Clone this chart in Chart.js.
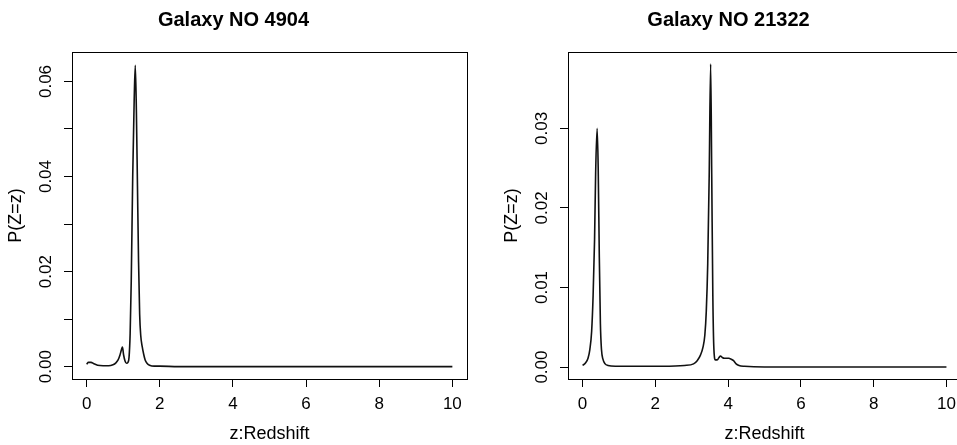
<!DOCTYPE html>
<html>
<head>
<meta charset="utf-8">
<script src="https://cdn.jsdelivr.net/npm/chart.js@4/dist/chart.umd.min.js"></script>
<style>
  body { margin: 0; background: #fff; overflow: hidden; width: 957px; height: 445px; position: relative; }
  canvas { position: absolute; top: 0; }
  #left { left: 0; }
  #right { left: 496px; }
</style>
</head>
<body>
<canvas id="left" width="540" height="445"></canvas>
<canvas id="right" width="538" height="445"></canvas>
<script>
// Galaxy NO 4904
const z4904 = [0, 0.05, 0.12, 0.2, 0.3, 0.45, 0.6, 0.72, 0.8, 0.86,
  0.91, 0.95, 0.98, 1.01, 1.05, 1.09, 1.13, 1.16, 1.19, 1.22,
  1.26, 1.30, 1.33, 1.36, 1.39, 1.42, 1.45, 1.48, 1.52, 1.56,
  1.60, 1.65, 1.72, 1.85, 2.0, 2.5, 3, 4, 5, 6,
  7, 8, 9, 10];
const p4904 = [0.0005, 0.0009, 0.0009, 0.0006, 0.0003, 0.0002, 0.0002, 0.0004, 0.0008, 0.0014,
  0.0024, 0.0035, 0.0041, 0.0025, 0.0012, 0.0007, 0.0009, 0.0020, 0.0070, 0.0180,
  0.0400, 0.0560, 0.0634, 0.0540, 0.0380, 0.0220, 0.0110, 0.0065, 0.0042, 0.0026,
  0.0014, 0.0007, 0.0003, 0.0001, 0.0001, 0, 0, 0, 0, 0,
  0, 0, 0, 0];

// Galaxy NO 21322
const z21322 = [0, 0.08, 0.15, 0.2, 0.25, 0.29, 0.33, 0.36, 0.40, 0.43,
  0.46, 0.49, 0.52, 0.56, 0.62, 0.7, 0.9, 1.5, 2.2, 2.8,
  3.05, 3.15, 3.24, 3.31, 3.36, 3.40, 3.44, 3.48, 3.52, 3.55,
  3.58, 3.61, 3.65, 3.7, 3.75, 3.79, 3.84, 3.9, 3.96, 4.02,
  4.08, 4.15, 4.22, 4.3, 4.45, 5, 6, 7, 8, 9,
  10];
const p21322 = [0.0002, 0.0005, 0.0011, 0.0022, 0.0045, 0.0090, 0.0160, 0.0245, 0.0300, 0.0250,
  0.0140, 0.0055, 0.0022, 0.0010, 0.0004, 0.0002, 0.0001, 0.0001, 0.0001, 0.0002,
  0.0004, 0.0008, 0.0015, 0.0025, 0.0040, 0.0070, 0.0130, 0.0240, 0.0381, 0.0240,
  0.0090, 0.0022, 0.0009, 0.0009, 0.0012, 0.0014, 0.0012, 0.0011, 0.0011, 0.0011,
  0.0010, 0.0008, 0.0004, 0.0002, 0.0001, 0, 0, 0, 0, 0,
  0];

const xTitle = "z:Redshift";
const yTitle = "P(Z=z)";

Chart.defaults.font.family = '"Liberation Sans", Arial, Helvetica, sans-serif';
Chart.defaults.color = "#000";

// R style box around the plot region
const boxPlugin = {
  id: "box",
  afterDraw(chart) {
    const a = chart.chartArea;
    const ctx = chart.ctx;
    ctx.save();
    ctx.strokeStyle = "#000";
    ctx.lineWidth = 1;
    ctx.strokeRect(Math.round(a.left) + 0.5, Math.round(a.top) + 0.5,
      Math.round(a.right - a.left), Math.round(a.bottom - a.top));
    ctx.restore();
  }
};

function makeChart(id, title, zs, ps, yMin, yMax, everyOther) {
  const points = zs.map((z, i) => ({ x: z, y: ps[i] }));
  return new Chart(document.getElementById(id), {
    type: "line",
    data: {
      datasets: [{
        data: points,
        borderColor: "#111",
        borderWidth: 1.6,
        pointRadius: 0,
        fill: false,
        cubicInterpolationMode: "monotone"
      }]
    },
    options: {
      responsive: false,
      animation: false,
      devicePixelRatio: 1,
      layout: { padding: { left: 0, right: 73, top: 0, bottom: 0 } },
      plugins: {
        legend: { display: false },
        tooltip: { enabled: false },
        title: {
          display: true,
          text: title,
          font: { size: 20, weight: "bold" },
          padding: { top: 8, bottom: 20 }
        }
      },
      scales: {
        x: {
          type: "linear",
          min: -0.4,
          max: 10.4,
          border: { display: false },
          grid: { drawOnChartArea: false, drawTicks: true, tickLength: 8, color: "#000" },
          ticks: { stepSize: 2, includeBounds: false, padding: 7, font: { size: 17 }, maxRotation: 0 },
          title: { display: true, text: xTitle, font: { size: 18 }, padding: { top: 0, bottom: 0 } },
          afterFit(scale) { scale.height = 66; }
        },
        y: {
          type: "linear",
          min: yMin,
          max: yMax,
          border: { display: false },
          grid: { drawOnChartArea: false, drawTicks: true, tickLength: 8, color: "#000" },
          ticks: {
            stepSize: 0.01,
            includeBounds: false,
            autoSkip: false,
            minRotation: 90,
            maxRotation: 90,
            crossAlign: "center",
            padding: 1,
            font: { size: 17 },
            callback: (v) => {
              const k = Math.round(v * 100);
              if (everyOther && k % 2 !== 0) return "";
              return (k / 100).toFixed(2);
            }
          },
          title: { display: true, text: yTitle, font: { size: 18 }, padding: { top: 5, bottom: 0 } },
          afterFit(scale) { scale.width = 72; }
        }
      }
    },
    plugins: [boxPlugin]
  });
}

makeChart("left", "Galaxy NO 4904", z4904, p4904, -0.0026, 0.0662, true);
makeChart("right", "Galaxy NO 21322", z21322, p21322, -0.0015, 0.0396, false);
</script>
</body>
</html>
